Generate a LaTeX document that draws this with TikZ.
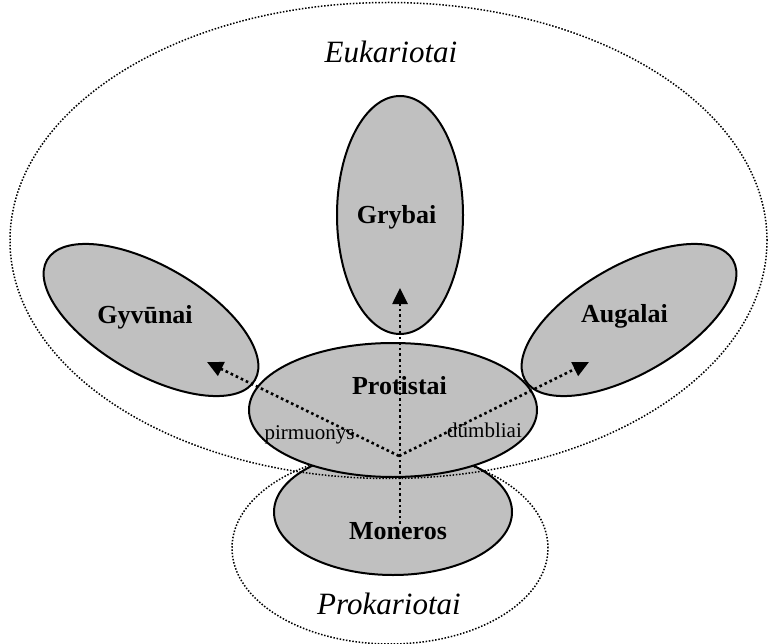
\documentclass[tikz,border=0pt]{standalone}
\usepackage{fontspec}
\setmainfont{Liberation Serif}
\usepackage{tikz}
\usepackage{xcolor}
\usetikzlibrary{arrows.meta, shapes.geometric}
\definecolor{cell}{HTML}{C0C0C0}

\begin{document}
\begin{tikzpicture}[
    x=1pt, y=-1pt,
    >={Triangle[length=16pt, width=15pt]},
    E/.style={ellipse, draw=black, fill=cell, line width=2pt, inner sep=0pt},
    D/.style={ellipse, draw=black, line width=1.5pt, dash pattern=on 1.5pt off 1.7pt, inner sep=0pt},
    T/.style={anchor=base, inner sep=0pt, font=\fontsize{26}{30}\selectfont\bfseries},
    G/.style={anchor=base, inner sep=0pt, font=\fontsize{31}{36}\selectfont\itshape},
    S/.style={anchor=base, inner sep=0pt, font=\fontsize{21}{25}\selectfont},
    A/.style={->, line width=2.6pt, dash pattern=on 2.6pt off 3pt}
]
\useasboundingbox (0,0) rectangle (776,644);

% === LOWEST CELL ===
\node[E, minimum width=238pt, minimum height=126pt] (mon) at (393,512) {};

% === DOMAINS ===
\node[D, minimum width=757pt, minimum height=476pt] (euk) at (388.5,240.5) {};
\node[D, minimum width=316pt, minimum height=192pt] (prok) at (390,548) {};

% === KINGDOMS ===
\node[E, minimum width=288pt, minimum height=134pt] (prot) at (393,410) {};
\node[E, minimum width=126pt, minimum height=238pt] (gryb) at (400,215) {};
\node[E, minimum width=240pt, minimum height=108pt, rotate=-30] (gyv) at (151,320) {};
\node[E, minimum width=240pt, minimum height=108pt, rotate=30] (aug) at (629,320) {};

% === LABELS ===
\node[G] (eukT) at (391,63) {Eukariotai};
\node[G] (prokT) at (389,614) {Prokariotai};
\node[T] (grybT) at (396.5,224) {Grybai};
\node[T] (gyvT) at (145,323) {Gyvūnai};
\node[T] (augT) at (624.5,322) {Augalai};
\node[T] (protT) at (399.5,394) {Protistai};
\node[T] (monT) at (398,539) {Moneros};
\node[S] (pirmT) at (309.5,439) {pirmuonys};
\node[S] (dumbT) at (484.5,437) {dūmbliai};

% === EVOLUTION ARROWS ===
\coordinate (hub) at (399,456);
\coordinate (monTop) at (400,524);
\coordinate (grybTip) at (400,288);
\coordinate (gyvTip) at (207,362);
\coordinate (augTip) at (589,362);

\draw[A] (monTop) -- (grybTip);
\draw[A] (hub) -- (gyvTip);
\draw[A] (hub) -- (augTip);

\end{tikzpicture}
\end{document}
